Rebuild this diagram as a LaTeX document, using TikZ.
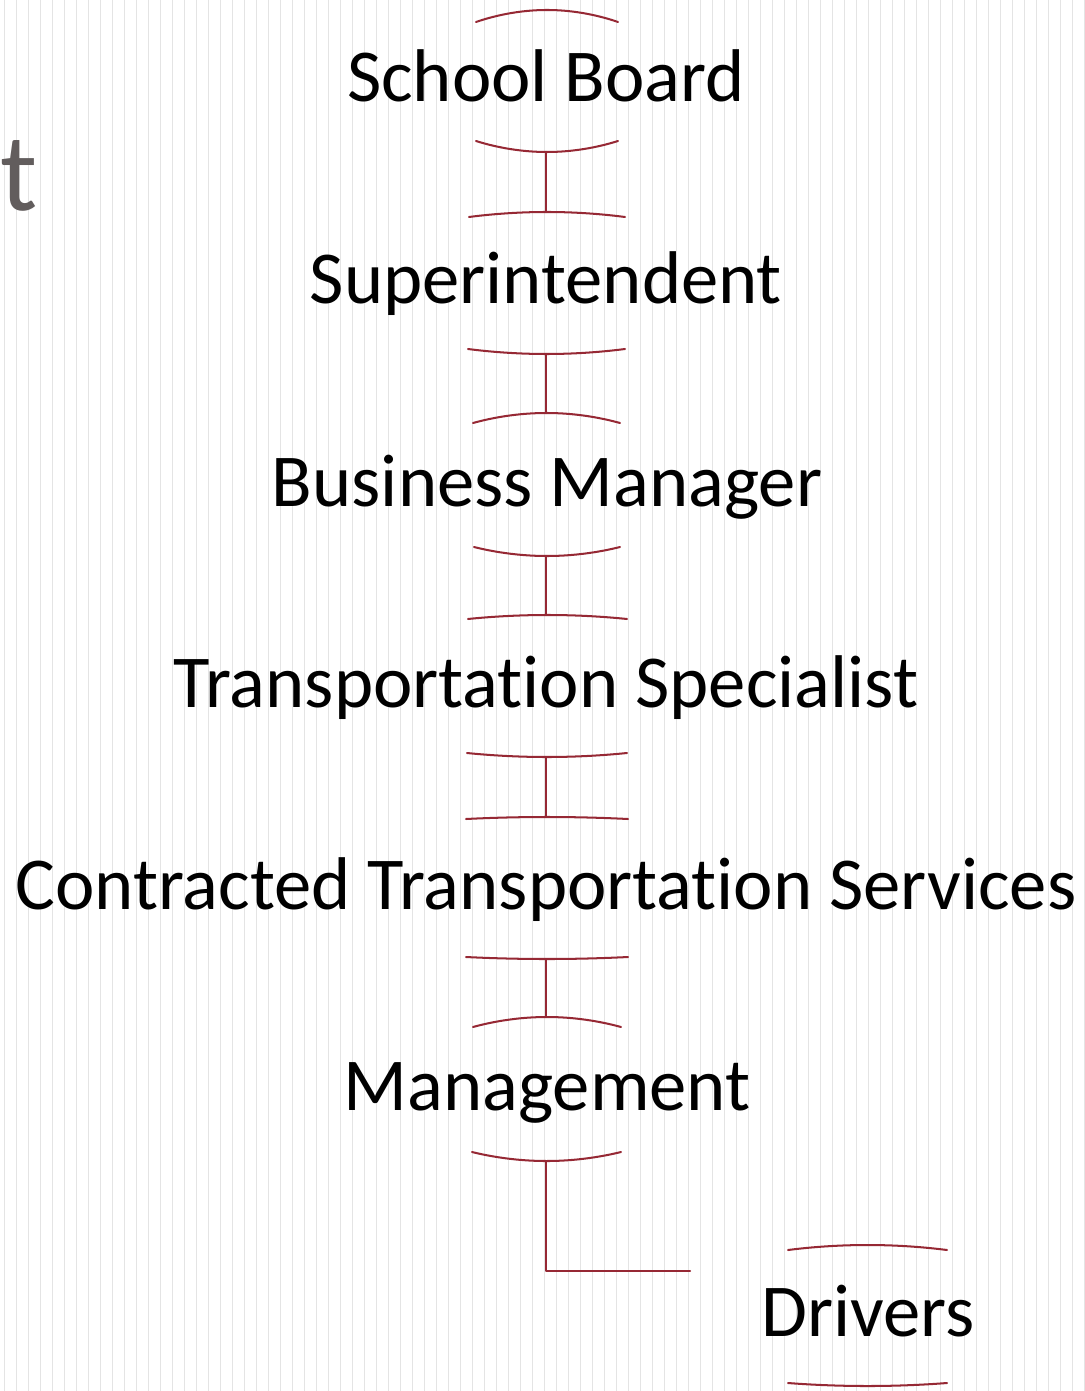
\documentclass[tikz,border=0pt]{standalone}
\usepackage{fontspec}
\setmainfont{Carlito}[Ligatures=NoCommon]
\usepackage{tikz}
\usetikzlibrary{calc}
\definecolor{rimred}{RGB}{150,40,52}
\definecolor{stripegray}{RGB}{228,228,228}
\definecolor{titlegray}{RGB}{98,93,93}
\tikzset{
	lbl/.style={anchor=base,inner sep=0pt,text=black,font=\fontsize{42.5}{42.5}\selectfont},
	rim/.style={color=rimred,line width=1.15pt},
	link/.style={color=rimred,line width=1.15pt}
}

\begin{document}
\begin{tikzpicture}[line cap=round,line join=round,x=0.02cm,y=-0.02cm]
	\fill[white] (0,0) rectangle (1084,1391);
	\useasboundingbox (0,0) rectangle (1084,1391);
	% background stripes
	\foreach \i in {0,...,90}
		\draw[stripegray,line width=0.8pt,line cap=butt] (4.3+12*\i,0) -- (4.3+12*\i,1391);
	\node[anchor=base west,inner sep=0pt,text=titlegray,font=\fontsize{63}{63}\selectfont] (cut) at (0,211) {t};

	% boxes
	\node[lbl] (board) at (546,102) {School Board};
	\draw[rim] (476,22) parabola bend (547,10) (618,22);
	\draw[rim] (476,141) parabola bend (547,152) (618,141);
	\coordinate (board-s) at (546,152);

	\node[lbl] (sup) at (546,304) {Superintendent};
	\draw[rim] (469,217) parabola bend (547,212) (625,217);
	\draw[rim] (468,349) parabola bend (546.5,354) (625,349);
	\coordinate (sup-n) at (546,212);
	\coordinate (sup-s) at (546,354);

	\node[lbl] (bm) at (547,506) {Business Manager};
	\draw[rim] (473,423) parabola bend (546.5,413) (620,423);
	\draw[rim] (474,547) parabola bend (547,556) (620,547);
	\coordinate (bm-n) at (546,413);
	\coordinate (bm-s) at (546,556);

	\node[lbl] (spec) at (546,707) {Transportation Specialist};
	\draw[rim] (468,619) parabola bend (547.5,615) (627,619);
	\draw[rim] (467,753) parabola bend (547,757) (627,753);
	\coordinate (spec-n) at (546,615);
	\coordinate (spec-s) at (546,757);

	\node[lbl] (cts) at (546,909) {Contracted Transportation Services};
	\draw[rim] (466,819) parabola bend (547,817) (628,819);
	\draw[rim] (466,957) parabola bend (547,959) (628,957);
	\coordinate (cts-n) at (546,817);
	\coordinate (cts-s) at (546,959);

	\node[lbl] (mgmt) at (547,1110) {Management};
	\draw[rim] (473,1027) parabola bend (547,1017) (621,1027);
	\draw[rim] (472,1152) parabola bend (546.5,1161) (621,1152);
	\coordinate (mgmt-n) at (546,1017);
	\coordinate (mgmt-s) at (546,1161);

	\node[lbl] (drv) at (868,1336) {Drivers};
	\draw[rim] (788,1250) parabola bend (867.5,1245) (947,1250);
	\draw[rim] (788,1383) parabola bend (867.5,1386) (947,1383);
	\coordinate (drv-end) at (690,1271);

	% connectors
	\draw[link] (board-s) -- (sup-n);
	\draw[link] (sup-s) -- (bm-n);
	\draw[link] (bm-s) -- (spec-n);
	\draw[link] (spec-s) -- (cts-n);
	\draw[link] (cts-s) -- (mgmt-n);
	\draw[link] (mgmt-s) |- (drv-end);
\end{tikzpicture}
\end{document}
